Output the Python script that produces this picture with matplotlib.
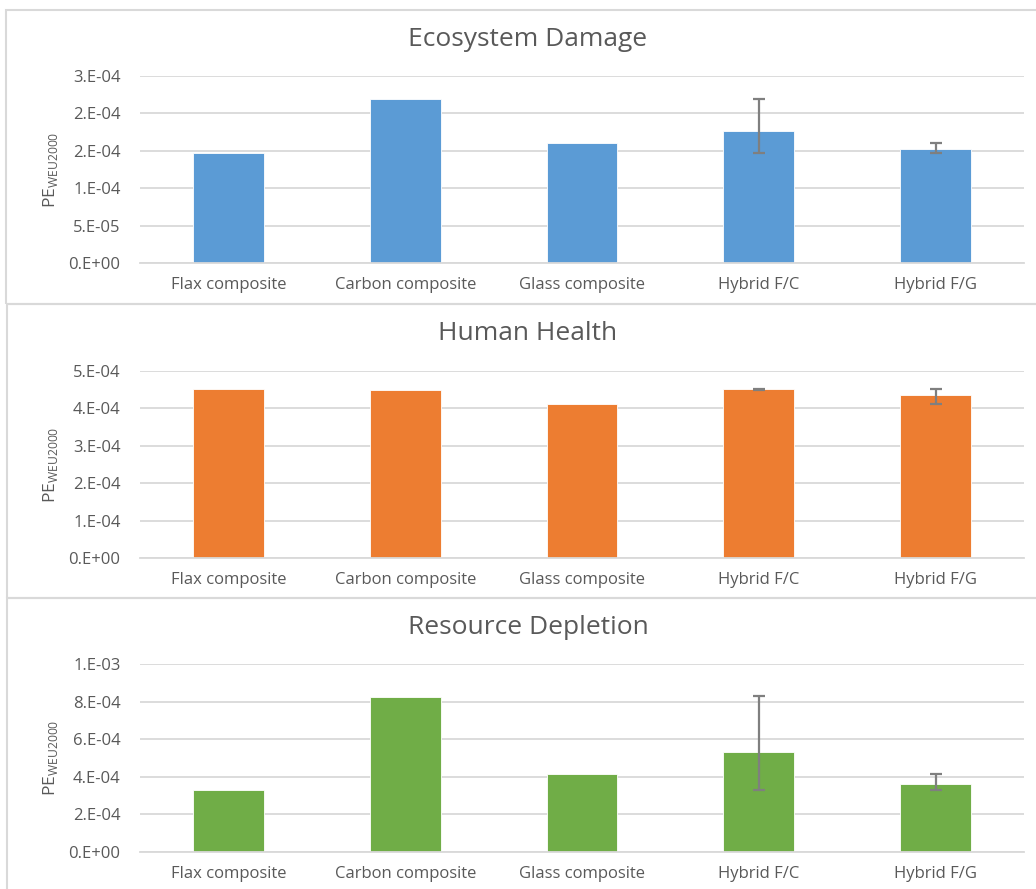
import matplotlib
matplotlib.use("Agg")
from matplotlib import pyplot as plt
from matplotlib.patches import Rectangle
import numpy as np

plt.rcParams["font.family"] = ["Open Sans", "DejaVu Sans"]

categories = ["Flax composite", "Carbon composite", "Glass composite", "Hybrid F/C", "Hybrid F/G"]

# mean values per panel
eco_values = [1.467e-4, 2.187e-4, 1.60e-4, 1.76e-4, 1.52e-4]
health_values = [4.53e-4, 4.50e-4, 4.13e-4, 4.53e-4, 4.37e-4]
resource_values = [3.32e-4, 8.27e-4, 4.13e-4, 5.32e-4, 3.60e-4]

# error range (low, high) for the two hybrids
eco_low = [1.467e-4, 1.467e-4]
eco_high = [2.187e-4, 1.60e-4]
health_low = [4.50e-4, 4.13e-4]
health_high = [4.53e-4, 4.53e-4]
resource_low = [3.32e-4, 3.32e-4]
resource_high = [8.30e-4, 4.14e-4]

eco_ticks = [0, 5e-5, 1e-4, 1.5e-4, 2e-4, 2.5e-4]
eco_ticklabels = ["0.E+00", "5.E-05", "1.E-04", "2.E-04", "2.E-04", "3.E-04"]
health_ticks = [0, 1e-4, 2e-4, 3e-4, 4e-4, 5e-4]
health_ticklabels = ["0.E+00", "1.E-04", "2.E-04", "3.E-04", "4.E-04", "5.E-04"]
resource_ticks = [0, 2e-4, 4e-4, 6e-4, 8e-4, 1e-3]
resource_ticklabels = ["0.E+00", "2.E-04", "4.E-04", "6.E-04", "8.E-04", "1.E-03"]

W, H = 1036, 889
fig = plt.figure(figsize=(W / 100, H / 100), dpi=100)

text_col = "#595959"
grid_col = "#D9D9D9"

panels = [
    ("Ecosystem Damage", eco_values, eco_low, eco_high, eco_ticks, eco_ticklabels, "#5B9BD5", 76, 263, 39, (6, 10, 304)),
    ("Human Health", health_values, health_low, health_high, health_ticks, health_ticklabels, "#ED7D31", 371, 558, 334, (7, 304, 598)),
    ("Resource Depletion", resource_values, resource_low, resource_high, resource_ticks, resource_ticklabels, "#70AD47", 664, 852, 628, (7, 598, 895)),
]

x = np.arange(len(categories))
for title, vals, lo, hi, ticks, ticklabels, color, top, bot, ty, box in panels:
    # panel border
    bx, by0, by1 = box
    fig.patches.append(Rectangle((bx / W, 1 - by1 / H), (W + 10 - bx) / W, (by1 - by0) / H,
                                 transform=fig.transFigure, fill=False,
                                 edgecolor="#D9D9D9", linewidth=1.5, zorder=0))

    ax = fig.add_axes([140 / W, 1 - bot / H, (1024 - 140) / W, (bot - top) / H])
    ax.bar(x, vals, width=0.4, color=color, edgecolor="white", linewidth=0.6, zorder=2)
    hx = x[3:]
    hv = np.array(vals[3:])
    yerr = [hv - np.array(lo), np.array(hi) - hv]
    ax.errorbar(hx, hv, yerr=yerr, fmt="none", ecolor="#7F7F7F", elinewidth=1.6,
                capsize=4, capthick=1.6, zorder=3)

    ax.set_xlim(-0.5, 4.5)
    ax.set_ylim(0, ticks[-1])
    ax.set_yticks(ticks)
    ax.set_yticklabels(ticklabels)
    ax.set_xticks(x)
    ax.set_xticklabels(categories)
    ax.yaxis.grid(True, color=grid_col, linewidth=1.3, zorder=0)
    ax.set_axisbelow(True)
    for s in ["top", "right", "left"]:
        ax.spines[s].set_visible(False)
    ax.spines["bottom"].set_color(grid_col)
    ax.spines["bottom"].set_linewidth(1.3)
    ax.tick_params(axis="both", length=0, labelsize=12, labelcolor=text_col)
    ax.tick_params(axis="y", pad=14)
    ax.tick_params(axis="x", pad=10)
    ax.set_ylabel(r"PE$_{\mathregular{WEU2000}}$", fontsize=12.5, color=text_col)
    ax.yaxis.set_label_coords(-80 / 884, 0.5)

    fig.text(528 / W, 1 - ty / H, title, ha="center", va="center", fontsize=19, color=text_col)

fig.savefig("out.png", dpi=100)
